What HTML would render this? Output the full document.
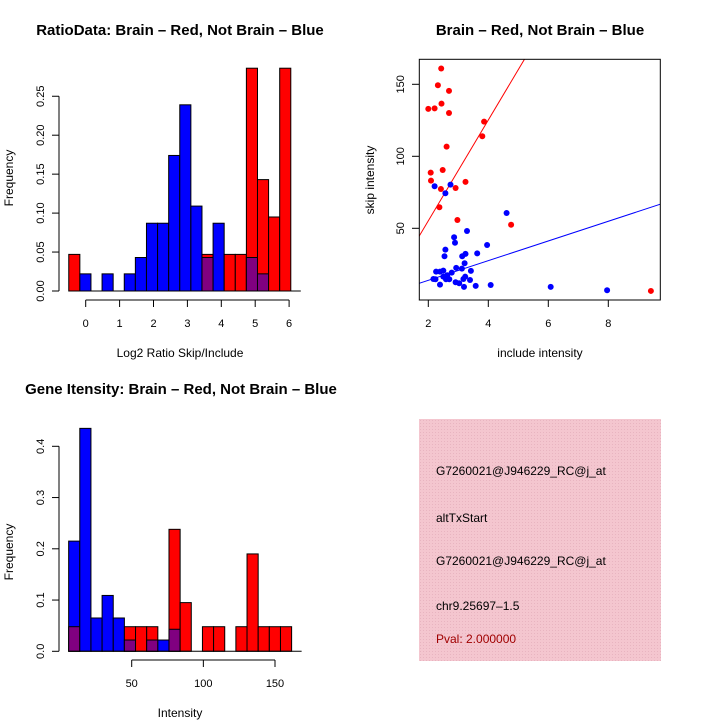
<!DOCTYPE html>
<html><head><meta charset="utf-8"><style>
html,body{margin:0;padding:0;background:#fff}
svg{display:block;font-family:"Liberation Sans",sans-serif}
</style></head><body>
<svg id="c" width="720" height="720" viewBox="0 0 720 720">
<text x="180" y="35" text-anchor="middle" font-size="15" font-weight="bold">RatioData: Brain – Red, Not Brain – Blue</text>
<text x="540" y="35" text-anchor="middle" font-size="15" font-weight="bold">Brain – Red, Not Brain – Blue</text>
<text x="181" y="394" text-anchor="middle" font-size="15" font-weight="bold">Gene Itensity: Brain – Red, Not Brain – Blue</text>
<text x="180" y="357" text-anchor="middle" font-size="12">Log2 Ratio Skip/Include</text>
<text transform="translate(13,178) rotate(-90)" text-anchor="middle" font-size="12">Frequency</text>
<text x="540" y="357" text-anchor="middle" font-size="12">include intensity</text>
<text transform="translate(374,180) rotate(-90)" text-anchor="middle" font-size="12">skip intensity</text>
<text x="180" y="717" text-anchor="middle" font-size="12">Intensity</text>
<text transform="translate(13,552) rotate(-90)" text-anchor="middle" font-size="12">Frequency</text>
<defs><pattern id="hatch" width="3" height="3" patternUnits="userSpaceOnUse"><rect width="3" height="3" fill="#f4c6cf"/><rect width="1" height="1" fill="#e8b4c0"/></pattern>
<clipPath id="clp"><rect x="419.3" y="59.3" width="241" height="240.7"/></clipPath></defs>
<g>
<rect x="419" y="419" width="242" height="242" fill="url(#hatch)"/>
<text x="436" y="475" font-size="12">G7260021@J946229_RC@j_at</text>
<text x="436" y="522" font-size="12">altTxStart</text>
<text x="436" y="565" font-size="12">G7260021@J946229_RC@j_at</text>
<text x="436" y="610" font-size="12">chr9.25697–1.5</text>
<text x="436" y="643" font-size="12" fill="#a00000">Pval: 2.000000</text>
</g>
</svg>
<script>
const ratioRed=[0.047,0,0,0,0,0,0,0,0,0,0,0,0.047,0,0.047,0.047,0.286,0.143,0.095,0.286];
const ratioBlue=[0,0.022,0,0.022,0,0.022,0.043,0.087,0.087,0.174,0.239,0.109,0.043,0.087,0,0,0.043,0.022,0,0];
const ratioXTicks=[0,1,2,3,4,5,6];
const ratioYTicks=[0,0.05,0.10,0.15,0.20,0.25];
const intRed=[0.048,0,0,0,0,0.048,0.048,0.048,0,0.238,0.095,0,0.048,0.048,0,0.048,0.190,0.048,0.048,0.048];
const intBlue=[0.215,0.435,0.065,0.109,0.065,0.022,0,0.022,0.022,0.043,0,0,0,0,0,0,0,0,0,0];
const intXTicks=[50,100,150];
const intYTicks=[0,0.1,0.2,0.3,0.4];
const redX=[2.0,2.21,2.43,2.32,2.44,2.69,2.69,3.86,3.8,2.61,2.08,2.48,2.09,2.42,2.91,3.24,2.37,2.97,4.76,9.42];
const redY=[132.9,133.3,161,149.3,136.6,145.4,130.1,124.1,113.9,106.7,88.7,90.5,83.1,77.3,78,82.2,64.6,55.8,52.5,6.5];
const blueX=[2.21,2.74,2.57,4.61,3.29,2.86,2.89,3.96,2.57,3.63,3.24,2.54,3.13,3.21,3.42,2.93,3.12,2.26,2.39,2.5,2.78,2.63,2.5,2.17,2.24,2.59,2.7,3.17,3.39,2.91,3.03,2.39,3.58,4.08,3.19,6.08,7.96,3.23];
const blueY=[79.2,80.3,74.3,60.6,48.1,43.8,40.0,38.4,35.2,32.6,32.2,30.6,30.6,25.7,20.4,22.5,22.0,19.9,19.9,20.6,19.2,17.4,16.4,14.8,14.6,14.6,14.6,14.8,14.1,12.5,11.8,10.9,10,10.6,9.3,9.3,7.0,16.4];
const redFit=[-14.8,35];
const blueFit=[0.17,6.84];
const scXTicks=[2,4,6,8];
const scYTicks=[50,100,150];

const svg=document.getElementById('c');
const NS='http://www.w3.org/2000/svg';
function mk(tag,attrs,parent){const e=document.createElementNS(NS,tag);for(const k in attrs)e.setAttribute(k,attrs[k]);(parent||svg).appendChild(e);return e;}

function hist(name,red,blue,x0,bw,xs,ys,base,xTicks,yTicks,yFmt,axisY){
  const g=mk('g',{});
  
  
  for(let i=0;i<red.length;i++){
    const xa=xs(x0+i*bw), xb=xs(x0+(i+1)*bw);
    const r=red[i], b=blue[i];
    const hi=Math.max(r,b), lo=Math.min(r,b);
    if(hi>0){
      const e=mk('rect',{x:xa,y:ys(hi),width:xb-xa,height:base-ys(hi),fill:r>=b?'#ff0000':'#0000ff',stroke:'#000','stroke-width':1},g);
      
      
    }
    if(lo>0){
      const e=mk('rect',{x:xa,y:ys(lo),width:xb-xa,height:base-ys(lo),fill:'#800080',stroke:'#000','stroke-width':1},g);
      
      
    }
  }
  mk('line',{x1:xs(x0),x2:xs(x0+red.length*bw)+10,y1:base,y2:base,stroke:'#000'},g);
  const ya=mk('g',{},g);
  
  
  mk('line',{x1:59,x2:59,y1:ys(yTicks[0]),y2:ys(yTicks[yTicks.length-1]),stroke:'#000'},ya);
  yTicks.forEach(t=>{
    mk('line',{x1:52,x2:59,y1:ys(t),y2:ys(t),stroke:'#000'},ya);
    const tx=mk('text',{transform:`translate(44,${ys(t)}) rotate(-90)`,'text-anchor':'middle','font-size':11},ya);
    tx.textContent=yFmt(t);
  });
  const xa=mk('g',{},g);
  
  
  mk('line',{x1:xs(xTicks[0]),x2:xs(xTicks[xTicks.length-1]),y1:axisY,y2:axisY,stroke:'#000'},xa);
  xTicks.forEach(t=>{
    mk('line',{x1:xs(t),x2:xs(t),y1:axisY,y2:axisY+7,stroke:'#000'},xa);
    const tx=mk('text',{x:xs(t),y:axisY+27,'text-anchor':'middle','font-size':11},xa);
    tx.textContent=t;
  });
}
hist('ratio-histogram',ratioRed,ratioBlue,-0.5,0.3275,v=>85.7+v*33.9,v=>291-v*779,291,ratioXTicks,ratioYTicks,t=>t.toFixed(2),300);
hist('intensity-histogram',intRed,intBlue,6,7.78,v=>131.7+(v-50)*1.433,v=>651.3-v*512.5,651.3,intXTicks,intYTicks,t=>t.toFixed(1),660);

const sx=v=>428.3+(v-2)*30, sy=v=>300.3-v*1.44;
const sg=mk('g',{});


[[redFit,'#ff0000','red-fit-line'],[blueFit,'#0000ff','blue-fit-line']].forEach(([f,c,n])=>{
  const l=mk('line',{x1:sx(1.5),y1:sy(f[0]+f[1]*1.5),x2:sx(10),y2:sy(f[0]+f[1]*10),stroke:c,'clip-path':'url(#clp)'},sg);
  
  
});
redX.forEach((x,i)=>{
  const p=mk('circle',{cx:sx(x),cy:sy(redY[i]),r:3,fill:'#ff0000'},sg);
  
  
});
blueX.forEach((x,i)=>{
  const p=mk('circle',{cx:sx(x),cy:sy(blueY[i]),r:3,fill:'#0000ff'},sg);
  
  
});
mk('rect',{x:419.3,y:59.3,width:241,height:240.7,fill:'none',stroke:'#000'},sg);
scXTicks.forEach(t=>{
  mk('line',{x1:sx(t),x2:sx(t),y1:300,y2:307,stroke:'#000'},sg);
  const tx=mk('text',{x:sx(t),y:327,'text-anchor':'middle','font-size':11},sg);
  tx.textContent=t;
});
scYTicks.forEach(t=>{
  mk('line',{x1:412,x2:419.3,y1:sy(t),y2:sy(t),stroke:'#000'},sg);
  const tx=mk('text',{transform:`translate(404,${sy(t)}) rotate(-90)`,'text-anchor':'middle','font-size':11},sg);
  tx.textContent=t;
});
</script>
</body></html>
